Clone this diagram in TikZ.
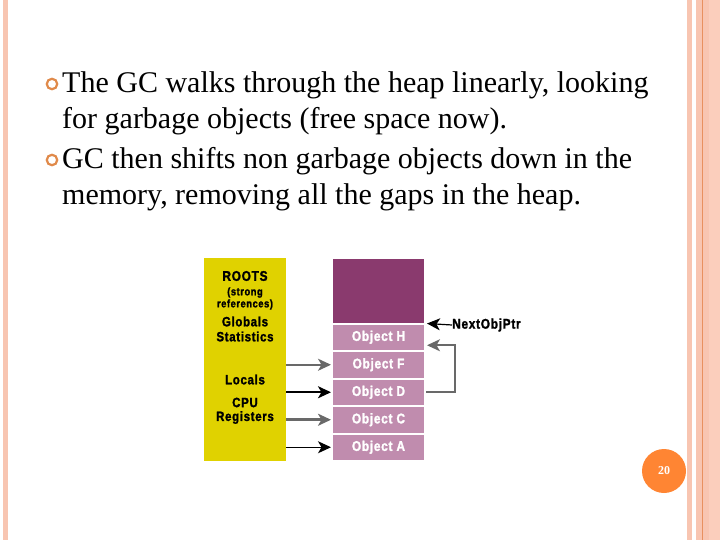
\documentclass[tikz,border=0pt]{standalone}
\usepackage{fontspec}
\setmainfont{Liberation Serif}
\newfontfamily\narrowsans[FakeStretch=0.85,LetterSpace=5,FakeBold=1.6]{Liberation Sans}
\usetikzlibrary{arrows.meta,calc}
\definecolor{slidepink}{RGB}{248, 197, 177}
\definecolor{slidepinklt}{RGB}{251, 206, 188}
\definecolor{slideline}{RGB}{232, 144, 95}
\definecolor{bulletorange}{RGB}{224, 138, 74}
\definecolor{pageorange}{RGB}{255, 133, 51}
\definecolor{rootyellow}{RGB}{224, 210, 0}
\definecolor{heapplum}{RGB}{138, 58, 110}
\definecolor{heapmauve}{RGB}{192, 140, 174}
\definecolor{ptrgray}{RGB}{105, 105, 105}

\begin{document}
\begin{tikzpicture}[x=1pt, y=-1pt,
    ringmark/.style={circle, draw=bulletorange, line width=2.2pt, minimum size=10.5pt, inner sep=0pt},
    pointtext/.style={anchor=base west, align=left, inner sep=0pt,
                      font=\fontsize{30}{36}\selectfont},
    rootlbl/.style={inner sep=0pt, font=\narrowsans\bfseries\fontsize{13.5}{14}\selectfont},
    memcell/.style={draw=white, line width=2pt, fill=heapmauve, minimum width=93pt,
                    minimum height=27.5pt, inner sep=0pt, text=white,
                    font=\narrowsans\bfseries\fontsize{14}{14}\selectfont},
    refarrow/.style={-{Stealth[length=13pt, width=12pt, inset=3.5pt]}}]
    \useasboundingbox (0,0) rectangle (720,540);

    %% slide frame
    \fill[slidepink]   (3,0) rectangle (8,540);
    \fill[slidepink]   (687,0) rectangle (692,540);
    \fill[slidepink]   (696,0) rectangle (709,540);
    \fill[slidepinklt] (709,0) rectangle (720,540);
    \draw[slideline, line width=1pt] (702.5,0) -- (702.5,540);

    %% bullet points
    \node[ringmark] (ringA) at (52,84) {};
    \node[pointtext] (pointA) at (62,128.5)
      {The GC walks through the heap linearly, looking\\for garbage objects (free space now).};
    \node[ringmark] (ringB) at (52,160) {};
    \node[pointtext] (pointB) at (62,205)
      {GC then shifts non garbage objects down in the\\memory, removing all the gaps in the heap.};

    %% roots
    \node[fill=rootyellow, minimum width=82pt, minimum height=203pt, inner sep=0pt]
      (roots) at (245,359.5) {};
    \node[rootlbl, font=\narrowsans\bfseries\fontsize{14}{14}\selectfont] (rootsTitle) at (245,276) {ROOTS};
    \node[rootlbl, font=\narrowsans\bfseries\fontsize{11}{11}\selectfont] (rootsStrong) at (245,292.5) {(strong};
    \node[rootlbl, font=\narrowsans\bfseries\fontsize{11}{11}\selectfont] (rootsRefs) at (245,304.5) {references)};
    \node[rootlbl] (rootsGlobals) at (245,321.5) {Globals};
    \node[rootlbl] (rootsStats) at (245,336.5) {Statistics};
    \node[rootlbl] (rootsLocals) at (245,379.5) {Locals};
    \node[rootlbl] (rootsCpu) at (245,402.5) {CPU};
    \node[rootlbl] (rootsRegs) at (245,417.5) {Registers};

    %% managed heap
    \node[memcell, fill=heapplum, minimum height=65.5pt] (freeSpace) at (378.5,290.75) {};
    \node[memcell] (objH) at (378.5,337.25) {Object H};
    \node[memcell] (objF) at (378.5,364.75) {Object F};
    \node[memcell] (objD) at (378.5,392.25) {Object D};
    \node[memcell] (objC) at (378.5,419.75) {Object C};
    \node[memcell] (objA) at (378.5,447.25) {Object A};

    %% references from the roots
    \draw[refarrow, ptrgray, line width=1.6pt] (roots.east |- objF.west) -- (objF.west);
    \draw[refarrow, black, line width=2.2pt]   (roots.east |- objD.west) -- (objD.west);
    \draw[refarrow, ptrgray, line width=3pt]   (roots.east |- objC.west) -- (objC.west);
    \draw[refarrow, black, line width=1.2pt]   (roots.east |- objA.west) -- (objA.west);

    %% next object pointer
    \node[anchor=west, inner sep=0pt, font=\narrowsans\bfseries\fontsize{14}{14}\selectfont]
      (nextPtr) at (452,325) {NextObjPtr};
    \draw[refarrow, black, line width=1.2pt] (nextPtr.west) -- ($(objH.north east)+(1,1)$);
    \draw[refarrow, ptrgray, line width=1.6pt]
      (objD.east) -- ++(29,0) |- ($(objH.east)+(1,8)$);

    %% page number
    \node[circle, fill=pageorange, minimum size=44pt, inner sep=0pt, text=white,
          font=\bfseries\fontsize{12}{12}\selectfont] (pageNum) at (664,471) {20};
\end{tikzpicture}
\end{document}
